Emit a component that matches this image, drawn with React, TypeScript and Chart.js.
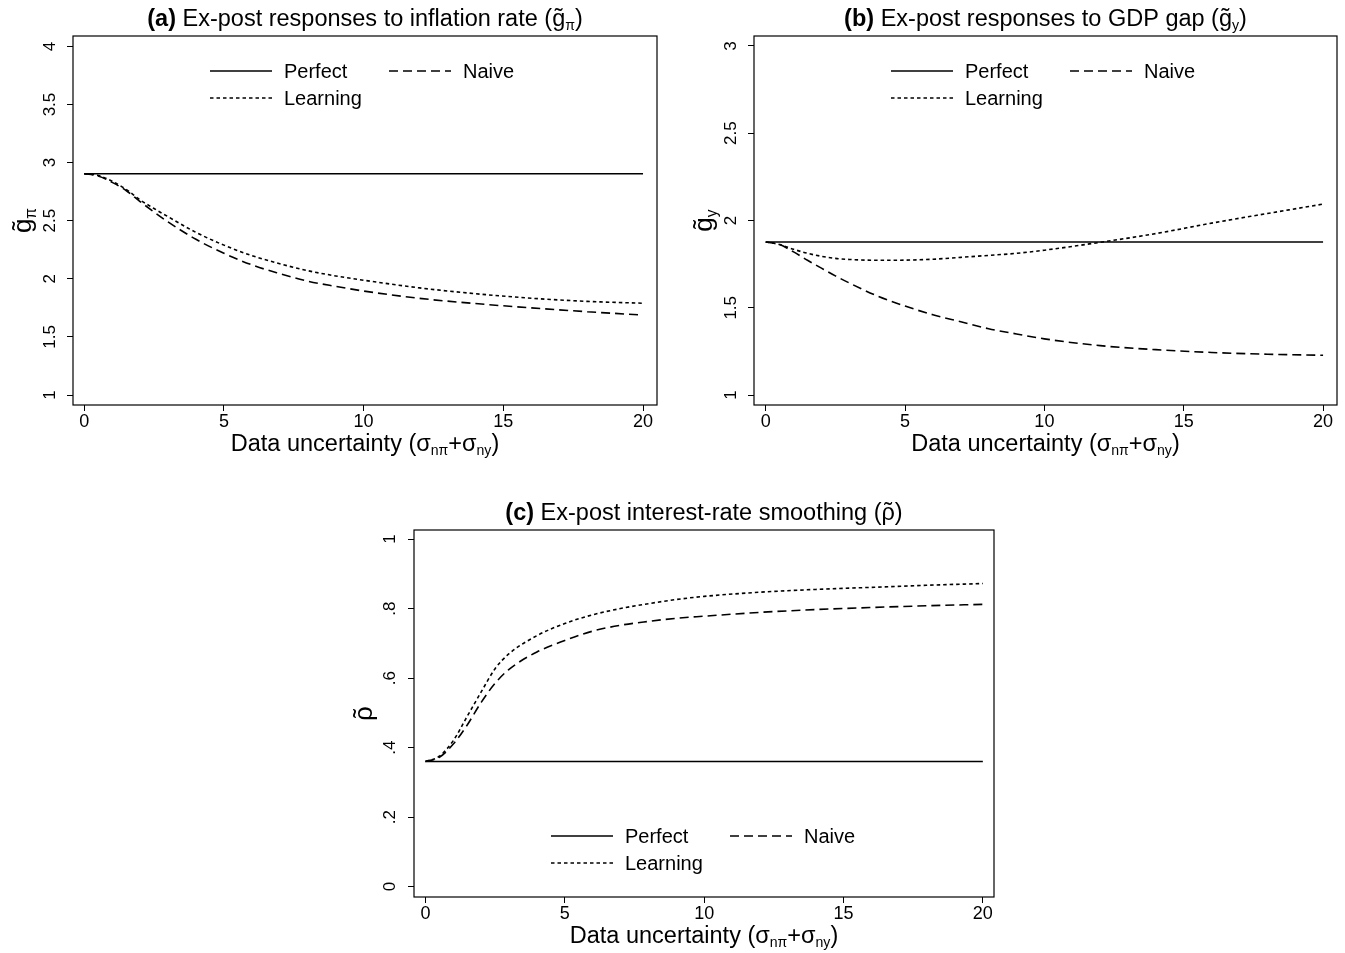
import React, { useEffect, useRef } from "react";
import { Chart, registerables } from "chart.js";

Chart.register(...registerables);

const FONT = "'Liberation Sans', Arial, Helvetica, sans-serif";
Chart.defaults.font.family = FONT;
Chart.defaults.color = "#000";

// ---------- data ----------
const X_VALUES = [0, 0.5, 1, 1.5, 2, 2.5, 3, 4, 5, 6, 7, 8, 9, 10, 12, 14, 16, 18, 20];
const PERFECT_X = [0, 20];
const X_TICKS = [0, 5, 10, 15, 20];
const X_TICK_LABELS = ["0", "5", "10", "15", "20"];

// (a) inflation response
const A_PERFECT = [2.905, 2.905];
const A_NAIVE = [2.905, 2.885, 2.83, 2.76, 2.665, 2.575, 2.49, 2.34, 2.22, 2.12, 2.045, 1.98, 1.935, 1.895, 1.832, 1.787, 1.75, 1.717, 1.688];
const A_LEARNING = [2.905, 2.89, 2.84, 2.77, 2.68, 2.605, 2.535, 2.4, 2.29, 2.2, 2.13, 2.07, 2.025, 1.988, 1.922, 1.872, 1.833, 1.806, 1.79];
const A_Y_TICKS = [1, 1.5, 2, 2.5, 3, 3.5, 4];
const A_Y_LABELS = ["1", "1.5", "2", "2.5", "3", "3.5", "4"];

// (b) GDP gap response
const B_PERFECT = [1.877, 1.877];
const B_NAIVE = [1.877, 1.862, 1.82, 1.772, 1.727, 1.683, 1.642, 1.568, 1.51, 1.46, 1.42, 1.38, 1.35, 1.322, 1.283, 1.26, 1.244, 1.234, 1.228];
const B_LEARNING = [1.877, 1.862, 1.835, 1.812, 1.795, 1.783, 1.777, 1.772, 1.773, 1.778, 1.789, 1.8, 1.812, 1.83, 1.875, 1.925, 1.985, 2.04, 2.094];
const B_Y_TICKS = [1, 1.5, 2, 2.5, 3];
const B_Y_LABELS = ["1", "1.5", "2", "2.5", "3"];

// (c) interest-rate smoothing
const C_PERFECT = [0.36, 0.36];
const C_NAIVE = [0.36, 0.372, 0.41, 0.465, 0.53, 0.585, 0.625, 0.675, 0.708, 0.735, 0.752, 0.763, 0.772, 0.778, 0.789, 0.797, 0.803, 0.808, 0.812];
const C_LEARNING = [0.36, 0.375, 0.42, 0.49, 0.56, 0.627, 0.67, 0.722, 0.757, 0.782, 0.8, 0.814, 0.826, 0.835, 0.847, 0.855, 0.861, 0.867, 0.872];
const C_Y_TICKS = [0, 0.2, 0.4, 0.6, 0.8, 1];
const C_Y_LABELS = ["0", ".2", ".4", ".6", ".8", "1"];

const SERIES_LABELS = ["Perfect", "Naive", "Learning"];

// ---------- rich text ----------
type Seg = { t: string; bold?: boolean; sub?: boolean; tilde?: boolean };

const X_TITLE: Seg[] = [
  { t: "Data uncertainty (" },
  { t: "σ" },
  { t: "nπ", sub: true },
  { t: "+σ" },
  { t: "ny", sub: true },
  { t: ")" },
];

function segFont(s: Seg, size: number) {
  return `${s.bold ? "bold " : ""}${s.sub ? size * 0.6 : size}px ${FONT}`;
}

function drawRich(ctx: CanvasRenderingContext2D, segs: Seg[], x: number, baseline: number, size: number, rotate: boolean) {
  ctx.save();
  ctx.translate(x, baseline);
  if (rotate) ctx.rotate(-Math.PI / 2);
  let total = 0;
  const widths = segs.map((s) => {
    ctx.font = segFont(s, size);
    const w = ctx.measureText(s.t).width;
    total += w;
    return w;
  });
  let cx = -total / 2;
  ctx.textAlign = "left";
  ctx.textBaseline = "alphabetic";
  ctx.fillStyle = "#000";
  segs.forEach((s, i) => {
    ctx.font = segFont(s, size);
    const dy = s.sub ? size * 0.18 : 0;
    ctx.fillText(s.t, cx, dy);
    if (s.tilde) {
      const tw = ctx.measureText("˜").width;
      ctx.fillText("˜", cx + widths[i] / 2 - tw / 2, dy - size * 0.05);
    }
    cx += widths[i];
  });
  ctx.restore();
}

// ---------- panels ----------
type Panel = {
  id: string;
  canvas: [number, number, number, number];
  plot: [number, number, number, number];
  xMin: number;
  xMax: number;
  yMin: number;
  yMax: number;
  yTicks: number[];
  yLabels: string[];
  yTickPad: number;
  perfect: number[];
  naive: number[];
  learning: number[];
  title: Seg[];
  yTitle: Seg[];
  legendAt: "top" | "bottom";
};

const PANELS: Panel[] = [
  {
    id: "a",
    canvas: [0, 0, 665, 465],
    plot: [73, 36, 657, 405],
    xMin: -0.4,
    xMax: 20.5,
    yMin: 0.914,
    yMax: 4.09,
    yTicks: A_Y_TICKS,
    yLabels: A_Y_LABELS,
    yTickPad: 5,
    perfect: A_PERFECT,
    naive: A_NAIVE,
    learning: A_LEARNING,
    title: [
      { t: "(a)", bold: true },
      { t: " Ex-post responses to inflation rate (" },
      { t: "g", tilde: true },
      { t: "π", sub: true },
      { t: ")" },
    ],
    yTitle: [{ t: "g", tilde: true }, { t: "π", sub: true }],
    legendAt: "top",
  },
  {
    id: "b",
    canvas: [680, 0, 665, 465],
    plot: [754, 36, 1337, 405],
    xMin: -0.42,
    xMax: 20.5,
    yMin: 0.943,
    yMax: 3.057,
    yTicks: B_Y_TICKS,
    yLabels: B_Y_LABELS,
    yTickPad: 5,
    perfect: B_PERFECT,
    naive: B_NAIVE,
    learning: B_LEARNING,
    title: [
      { t: "(b)", bold: true },
      { t: " Ex-post responses to GDP gap (" },
      { t: "g", tilde: true },
      { t: "y", sub: true },
      { t: ")" },
    ],
    yTitle: [{ t: "g", tilde: true }, { t: "y", sub: true }],
    legendAt: "top",
  },
  {
    id: "c",
    canvas: [340, 490, 665, 463],
    plot: [414, 530, 994, 897],
    xMin: -0.41,
    xMax: 20.4,
    yMin: -0.03,
    yMax: 1.026,
    yTicks: C_Y_TICKS,
    yLabels: C_Y_LABELS,
    yTickPad: 11,
    perfect: C_PERFECT,
    naive: C_NAIVE,
    learning: C_LEARNING,
    title: [
      { t: "(c)", bold: true },
      { t: " Ex-post interest-rate smoothing (" },
      { t: "ρ", tilde: true },
      { t: ")" },
    ],
    yTitle: [{ t: "ρ", tilde: true }],
    legendAt: "bottom",
  },
];

const toPoints = (xs: number[], ys: number[]) => xs.map((x, i) => ({ x, y: ys[i] }));

function makeChart(canvas: HTMLCanvasElement, p: Panel) {
  const [cl, ct, cw, ch] = p.canvas;
  const [pl, pt, pr, pb] = p.plot;
  const yWidth = pl - cl;
  const xHeight = ct + ch - pb;

  const decor = {
    id: "stataDecor",
    afterDraw(chart: any) {
      const ctx: CanvasRenderingContext2D = chart.ctx;
      const a = chart.chartArea;
      ctx.save();
      ctx.strokeStyle = "#000";
      ctx.lineWidth = 1.2;
      ctx.setLineDash([]);
      ctx.strokeRect(a.left, a.top, a.right - a.left, a.bottom - a.top);
      const cx = (a.left + a.right) / 2;
      drawRich(ctx, p.title, cx, a.top - 10, 23.5, false);
      drawRich(ctx, X_TITLE, cx, a.bottom + 46, 23.5, false);
      drawRich(ctx, p.yTitle, a.left - 42, (a.top + a.bottom) / 2, 26, true);

      const rows = p.legendAt === "top" ? [a.top + 35, a.top + 62] : [a.bottom - 61, a.bottom - 34];
      const items = [
        { ds: 0, col: 0, row: 0 },
        { ds: 1, col: 1, row: 0 },
        { ds: 2, col: 0, row: 1 },
      ];
      items.forEach((it) => {
        const ds = chart.data.datasets[it.ds];
        const x0 = a.left + 137 + it.col * 179;
        const y = rows[it.row];
        ctx.strokeStyle = ds.borderColor;
        ctx.lineWidth = ds.borderWidth;
        ctx.setLineDash(ds.borderDash || []);
        ctx.beginPath();
        ctx.moveTo(x0, y);
        ctx.lineTo(x0 + 62, y);
        ctx.stroke();
        ctx.setLineDash([]);
        ctx.font = `20px ${FONT}`;
        ctx.fillStyle = "#000";
        ctx.textAlign = "left";
        ctx.textBaseline = "alphabetic";
        ctx.fillText(ds.label, x0 + 74, y + 7);
      });
      ctx.restore();
    },
  };

  const gridOpts = {
    display: true,
    drawOnChartArea: false,
    drawTicks: true,
    tickLength: 6,
    color: "#000",
    lineWidth: 1,
  };

  const common = {
    borderColor: "#000",
    borderWidth: 1.6,
    pointRadius: 0,
    fill: false,
    cubicInterpolationMode: "monotone" as const,
  };

  return new Chart(canvas, {
    type: "line",
    data: {
      datasets: [
        { ...common, label: SERIES_LABELS[0], data: toPoints(PERFECT_X, p.perfect), borderDash: [] },
        { ...common, label: SERIES_LABELS[1], data: toPoints(X_VALUES, p.naive), borderDash: [9, 5] },
        { ...common, label: SERIES_LABELS[2], data: toPoints(X_VALUES, p.learning), borderDash: [3.5, 3] },
      ],
    },
    options: {
      responsive: false,
      animation: false,
      devicePixelRatio: 1,
      events: [],
      layout: { padding: { left: 0, top: pt - ct, right: cl + cw - pr, bottom: 0 } },
      plugins: {
        legend: { display: false },
        tooltip: { enabled: false },
        title: { display: false },
      },
      scales: {
        x: {
          type: "linear",
          min: p.xMin,
          max: p.xMax,
          afterBuildTicks: (s: any) => {
            s.ticks = X_TICKS.map((v) => ({ value: v }));
          },
          afterFit: (s: any) => {
            s.height = xHeight;
          },
          ticks: {
            autoSkip: false,
            maxRotation: 0,
            padding: 0,
            color: "#000",
            font: { family: FONT, size: 18 },
            callback: (v: any) => {
              const i = X_TICKS.indexOf(Number(v));
              return i >= 0 ? X_TICK_LABELS[i] : "";
            },
          },
          grid: gridOpts,
          border: { display: false },
        },
        y: {
          type: "linear",
          min: p.yMin,
          max: p.yMax,
          afterBuildTicks: (s: any) => {
            s.ticks = p.yTicks.map((v) => ({ value: v }));
          },
          afterFit: (s: any) => {
            s.width = yWidth;
          },
          ticks: {
            autoSkip: false,
            minRotation: 90,
            maxRotation: 90,
            crossAlign: "center",
            padding: p.yTickPad,
            color: "#000",
            font: { family: FONT, size: 17 },
            callback: (v: any) => {
              const i = p.yTicks.indexOf(Number(v));
              return i >= 0 ? p.yLabels[i] : "";
            },
          },
          grid: gridOpts,
          border: { display: false },
        },
      },
    } as any,
    plugins: [decor],
  });
}

function PanelChart({ p }: { p: Panel }) {
  const ref = useRef<HTMLCanvasElement>(null);
  useEffect(() => {
    if (!ref.current) return;
    const c = makeChart(ref.current, p);
    return () => c.destroy();
  }, [p]);
  const [l, t, w, h] = p.canvas;
  return (
    <canvas
      ref={ref}
      width={w}
      height={h}
      style={{ position: "absolute", left: l, top: t, width: w, height: h }}
    />
  );
}

export default function App() {
  return (
    <div
      style={{
        position: "absolute",
        left: 0,
        top: 0,
        width: 1345,
        height: 953,
        overflow: "hidden",
        background: "#fff",
      }}
    >
      {PANELS.map((p) => (
        <PanelChart key={p.id} p={p} />
      ))}
    </div>
  );
}
